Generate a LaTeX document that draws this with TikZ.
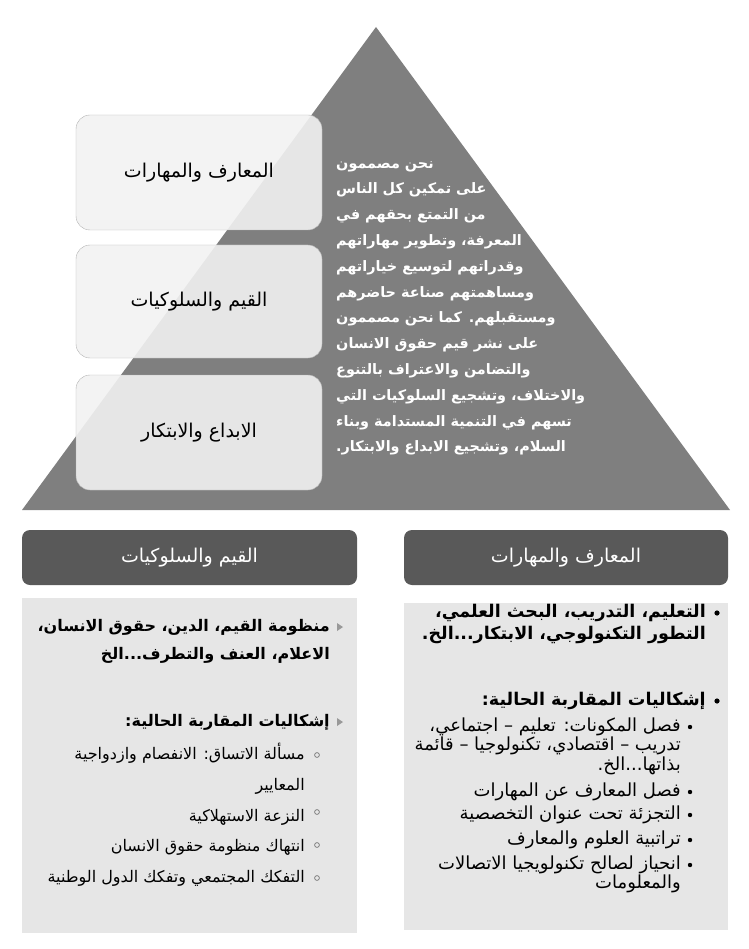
\documentclass[tikz,border=0pt]{standalone}
\usepackage{fontspec}
\usepackage{tikz}
\usetikzlibrary{calc}
\TeXXeTstate=1
\newfontfamily\arabicfont[Script=Arabic]{DejaVu Sans}
\newcommand{\artxt}[1]{\beginR #1\endR}
\definecolor{pyrgray}{HTML}{7F7F7F}
\definecolor{headgray}{HTML}{595959}
\definecolor{panelgray}{HTML}{E6E6E6}
\definecolor{boxgray}{HTML}{F2F2F2}

\begin{document}
\begin{tikzpicture}[x=1pt,y=-1pt,
	levelbox/.style={rounded corners=14pt,draw=gray!60,fill=boxgray,fill opacity=0.9,text opacity=1,minimum width=246pt,font=\arabicfont\fontsize{19}{22}\selectfont},
	headbox/.style={rounded corners=8pt,fill=headgray,text=white,minimum height=55pt,font=\arabicfont\fontsize{19}{22}\selectfont},
	panel/.style={fill=panelgray,inner sep=0pt},
	pyrtext/.style={text=white,align=left,inner sep=0pt,font=\arabicfont\bfseries\fontsize{14.4}{25.8}\selectfont},
	bigitem/.style={align=right,inner sep=0pt,font=\arabicfont\bfseries\fontsize{17.5}{21.5}\selectfont},
	subitem/.style={align=right,inner sep=0pt,font=\arabicfont\fontsize{18}{18}\selectfont}]
			\useasboundingbox (0,0) rectangle (748,949);
			\fill [pyrgray] (22,510) -- (376,27) -- (730,510) -- cycle;
			\node [levelbox,minimum height=115pt] (knowledge) at (199,172.5) {\artxt{المعارف والمهارات}};
			\node [levelbox,minimum height=113pt] (values) at (199,301.5) {\artxt{القيم والسلوكيات}};
			\node [levelbox,minimum height=115pt] (creativity) at (199,432.5) {\artxt{الابداع والابتكار}};
			\node [pyrtext,anchor=north west] (mission) at (336,161) {\artxt{نحن مصممون}\\
				\artxt{على تمكين كل الناس}\\
				\artxt{من التمتع بحقهم في}\\
				\artxt{المعرفة، وتطوير مهاراتهم}\\
				\artxt{وقدراتهم لتوسيع خياراتهم}\\
				\artxt{ومساهمتهم صناعة حاضرهم}\\
				\artxt{ومستقبلهم. كما نحن مصممون}\\
				\artxt{على نشر  قيم حقوق الانسان}\\
				\artxt{والتضامن والاعتراف بالتنوع}\\
				\artxt{والاختلاف، وتشجيع السلوكيات التي}\\
				\artxt{تسهم في التنمية المستدامة وبناء}\\
				\artxt{السلام، وتشجيع الابداع والابتكار.}};
			\node [headbox,minimum width=335pt] (hvalues) at (189.5,557.5) {\artxt{القيم والسلوكيات}};
			\node [headbox,minimum width=324pt] (hknowledge) at (566,557.5) {\artxt{المعارف والمهارات}};
			\node [panel,minimum width=335pt,minimum height=335pt] (pvalues) at (189.5,765.5) {};
			\node [panel,minimum width=324pt,minimum height=327pt] (pknowledge) at (566,766.5) {};
			\fill (717,613) circle (2.6);
			\fill (717,701) circle (2.6);
			\node [bigitem,anchor=north east] (kfields) at (706,604) {\artxt{التعليم، التدريب،  البحث العلمي،}\\
				\artxt{التطور التكنولوجي، الابتكار...الخ.}};
			\node [bigitem,anchor=north east] (kissues) at (706,692) {\artxt{إشكاليات المقاربة الحالية:}};
			\foreach \y in {727,792,815,840,865}
				\fill (690,\y) circle (2.2);
			\node [subitem,anchor=north east] (ksplit) at (681,718) {\artxt{فصل المكونات: تعليم – اجتماعي،}\\
				\artxt{تدريب – اقتصادي، تكنولوجيا – قائمة}\\
				\artxt{بذاتها...الخ.}};
			\node [subitem,anchor=north east] (kskills) at (681,783) {\artxt{فصل المعارف عن المهارات}};
			\node [subitem,anchor=north east] (kspecial) at (681,806) {\artxt{التجزئة تحت عنوان التخصصية}};
			\node [subitem,anchor=north east] (krank) at (681,831) {\artxt{تراتبية العلوم والمعارف}};
			\node [subitem,anchor=north east] (kbias) at (681,856) {\artxt{انحياز لصالح تكنولويجيا الاتصالات}\\
				\artxt{والمعلومات}};
			\foreach \y in {627,722}
				\fill [gray!80] (337,\y-4) -- (343,\y) -- (337,\y+4) -- cycle;
			\node [bigitem,anchor=north east,font=\arabicfont\bfseries\fontsize{16}{28}\selectfont] (vfields) at (330,619) {\artxt{منظومة القيم، الدين، حقوق الانسان،}\\
				\artxt{الاعلام، العنف والتطرف...الخ}};
			\node [bigitem,anchor=north east,font=\arabicfont\bfseries\fontsize{16}{28}\selectfont] (vissues) at (330,714) {\artxt{إشكاليات المقاربة الحالية:}};
			\foreach \y in {755,812,845,878}
				\draw [gray,thick] (317,\y) circle (2.4);
			\node [subitem,anchor=north east,font=\arabicfont\fontsize{16}{30.7}\selectfont] (vlist) at (305,743) {\artxt{مسألة الاتساق: الانفصام وازدواجية}\\
				\artxt{المعايير}\\
				\artxt{النزعة الاستهلاكية}\\
				\artxt{انتهاك منظومة حقوق الانسان}\\
				\artxt{التفكك المجتمعي وتفكك الدول الوطنية}};
		\end{tikzpicture}
\end{document}
